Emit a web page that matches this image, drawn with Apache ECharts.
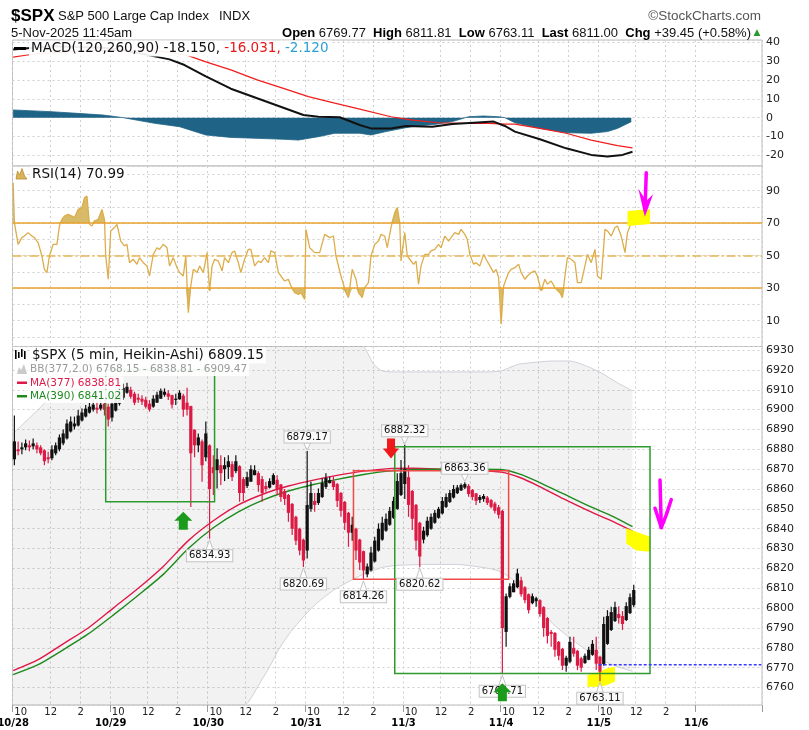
<!DOCTYPE html>
<html>
<head>
<meta charset="utf-8">
<title>$SPX S&amp;P 500 Large Cap Index</title>
<script src="https://cdn.jsdelivr.net/npm/echarts@6/dist/echarts.min.js"></script>
<style>
html,body{margin:0;padding:0;background:#fff;}
#chart{width:809px;height:730px;}
</style>
</head>
<body>
<div id="chart"></div>
<script>
// ================= axis structure / tick labels =================
const dayLabels = ['10/28','10/29','10/30','10/31','11/3','11/4','11/5','11/6'];
const timeLabels = ['10','12','2'];
const timeLabelBars = [6, 30, 54];      // 10:00, 12:00, 14:00 (5-min bars after 9:30)
const gridLineBars = [0, 30, 54];
const BARS_PER_DAY = 78;
const SLOT_COUNT = 599;
const LAST_SESSION_START = 546;         // 11/6 09:30: no intraday ticks after it
const CANDLE_SPAN = 3;                  // each candle drawn = 15 min (3 five-minute bars)
const rsiTickLabels = [10, 30, 50, 70, 90];

// ================= price: Heikin-Ashi candles [open, close, low, high] =================
const d1028 = [
 [6875,6884,6872,6897],[6880,6879,6877,6884],[6880,6881,6877.5,6883.5],[6881,6883,6879.5,6885],
 [6882,6881,6879,6884.5],[6881.5,6883,6880,6885.5],[6882,6880,6878,6883.5],[6881,6878,6877,6882],
 [6879.5,6874,6872,6880],[6876,6875,6873,6878.8],[6875.5,6880,6874.5,6882],[6878,6882,6877,6883.5],
 [6880,6886,6879,6887.5],[6883,6888,6882,6890],[6885.5,6893,6885,6895],[6889,6894,6888.5,6896.5],
 [6891.5,6893,6890,6896.5],[6892,6897,6891.5,6899.8],[6894.5,6898.5,6894,6900.6],[6896.5,6900.5,6896,6902.3],
 [6898.5,6901.5,6898,6903.5],[6900,6902.5,6899,6904.8],[6901,6900,6898,6904],[6900.5,6902.5,6899.5,6905],
 [6903,6900,6897,6905],[6901.5,6895,6891.5,6903]
];
const d1029 = [
 [6896,6903,6894,6906],[6899.5,6906,6899,6909],[6903,6909,6902,6912],[6906,6911,6905,6913],
 [6908.5,6911.5,6908,6913.5],[6910,6906.5,6905.5,6911.5],[6908,6903.5,6902.3,6909],[6906,6905,6903.5,6908],
 [6905.5,6904,6902.3,6907.3],[6905,6901.5,6900.6,6906.5],[6903,6900,6899,6904.8],[6901.5,6905.5,6901,6907.3],
 [6903.5,6907.5,6903.5,6909],[6905.5,6909.5,6905.5,6910.7],[6907.5,6909,6906.5,6910.7],[6908.2,6906.5,6904.8,6909.8],
 [6907.3,6902.5,6900.6,6907.5],[6905,6905.5,6902.3,6908],[6905.2,6908.5,6905,6909.8],[6907,6900,6896.4,6908],
 [6903.5,6900,6897,6911],[6901.8,6878,6851,6902],[6889.9,6882,6876,6890],[6882,6886,6878.5,6888],
 [6884,6872,6863.7,6885],[6876,6888,6874,6894]
];
const d1030 = [
 [6882,6860,6834.93,6882.5],[6871,6868,6857,6877],[6869.5,6875,6860.3,6880.5],[6872,6868,6862,6877],
 [6870,6872,6864,6876],[6871,6874,6865,6877],[6872.5,6866,6864,6874],[6869,6874,6868,6877],
 [6871.5,6858,6853.6,6872],[6865,6858,6854,6866],[6861.5,6866,6860.5,6868.7],[6863.7,6870,6863.7,6872],
 [6867,6869.5,6867,6872],[6868,6862,6858.6,6869],[6865,6858,6853.6,6866.5],[6861.5,6860,6858.6,6863.7],
 [6860.7,6864,6860.3,6865.4],[6862.3,6867,6862,6868],[6864.7,6860,6857,6867],[6862.3,6856,6853.6,6862.5],
 [6859,6855,6852,6860],[6857,6848,6843.5,6857.5],[6852.5,6840,6836.8,6853],[6846,6834,6831.8,6846.5],
 [6840,6829,6826.7,6840.5],[6834.5,6824,6820.69,6835]
];
const d1031 = [
 [6829,6852,6825,6879.17],[6850,6858,6848.6,6863.7],[6854,6852,6848.6,6858],[6853,6858,6852,6860.3],
 [6856,6863,6855.5,6865.4],[6861,6865.5,6860,6868],[6863,6864.5,6862.8,6866.2],[6864,6861,6859.5,6866.2],
 [6862.5,6854,6851,6863],[6858,6849,6846,6858.5],[6853.5,6843,6839.3,6854],[6848,6838,6830.9,6848.5],
 [6838,6842,6834,6846],[6840,6829,6824.2,6840.5],[6834.5,6823,6819.2,6835],[6828.7,6819,6814.26,6829],
 [6817,6821,6815.5,6822.5],[6819,6828,6818.5,6830.9],[6823.5,6834,6823,6836],[6829,6840,6828.5,6842.7],
 [6834.5,6843,6834,6846],[6839,6845,6838.5,6847.7],[6842,6849,6841.5,6851],[6845.5,6854,6845,6856.1],
 [6850,6864,6849.5,6867.9],[6857,6868,6856.5,6874.6]
];
const d1103 = [
 [6862.5,6870,6855,6882.32],[6866,6852,6846,6872],[6859,6845,6839.3,6859.5],[6852,6834,6829.2,6852.5],
 [6843,6826,6820.62,6843.5],[6834.5,6839,6832.6,6841],[6836.7,6844,6836,6846],[6840,6846,6839.5,6847.7],
 [6843,6848,6842.5,6849.4],[6845.5,6850,6845,6851],[6847.7,6854,6847.2,6856],[6851,6856,6850.5,6857.8],
 [6853.5,6858,6853,6859.5],[6855.7,6860,6855.2,6862],[6857.9,6860.8,6857.5,6862],[6859.3,6862,6859,6862.8],
 [6860.7,6862.5,6860,6863.36],[6861.6,6857.5,6856.1,6862.5],[6859.5,6856,6854.4,6860],[6857.8,6854,6851.9,6858],
 [6854.5,6856,6853,6857],[6855,6856.5,6853.6,6857.5],[6855.7,6853,6851.9,6856.5],[6854.4,6851,6850.2,6855],
 [6852.7,6849,6847.7,6853.6],[6850.8,6847,6845.2,6851.9]
];
const d1104 = [
 [6849,6790,6766.71,6849.5],[6788,6806,6780.6,6807.4],[6805.7,6811,6805,6812.5],[6808,6812.5,6808,6814.1],
 [6810.5,6817.5,6810,6819.8],[6814,6807,6805.7,6815.8],[6810.5,6804,6802.4,6811],[6807,6799,6797.3,6807.4],
 [6802.5,6806,6802,6807.4],[6803.5,6805,6800.7,6805.7],[6804,6797,6795.7,6804.5],[6800.5,6790,6785.6,6801],
 [6795,6786,6782.2,6795.5],[6788,6787,6780.6,6789],[6787.5,6779,6775.5,6788],[6783,6776,6773.8,6783.5],
 [6779.5,6771,6768.8,6780],[6771,6775,6768,6776],[6773,6783,6772.2,6785.6],[6780,6777,6775.5,6785.6],
 [6778.5,6771,6768.8,6779],[6774.7,6770,6768,6775.5],[6772.3,6776,6772,6777.2],[6774,6779,6773.8,6780.6],
 [6776.5,6782,6776,6783.9],[6779,6772,6768.8,6785.6]
];
const d1105 = [
 [6775.5,6768,6763.11,6776],[6771.8,6792,6771,6795.7],[6782,6796,6781.5,6799],[6789,6798,6788.5,6800.7],
 [6793.5,6800.5,6793,6803.2],[6797,6795,6792.3,6801],[6796,6792,6789,6798.5],[6794,6801,6793.5,6803],
 [6797.5,6805.5,6797,6807.4],[6801.5,6809.15,6800.5,6811.81]
];
const tradingDays = [d1028, d1029, d1030, d1031, d1103, d1104, d1105];

// ================= overlays (bar index, value) =================
const bbBars  = [0,20,40,60,75,100,140,187,196,205,213,223,240,256,270,281,288,295,306,330,355,380,390,400,405,420,431,445,458,470,483,495];
const bbUpper = [6888,6900,6913,6927,6936,6946,6952,6950,6949,6948,6947,6946,6944,6941,6937,6931,6923,6919.5,6919,6919,6919,6919,6919.5,6922,6923,6924,6924.5,6924.5,6922,6918.5,6913.5,6909.47];
const bbLower = [6700,6703,6706,6710,6713,6719,6730,6752,6761,6770.5,6780,6789,6801,6809,6814,6817.5,6819,6820.5,6821.5,6822,6822,6820,6818.3,6814,6810.8,6801,6792.3,6785,6779,6774,6770.5,6768.15];

const maBars = [0,20,40,60,80,100,120,140,160,180,200,220,240,260,280,300,320,345,370,390,405,420,440,460,480,495];
const ma377  = [6768.5,6774,6782,6790,6800,6810,6821,6834,6844,6852,6857.5,6861.5,6864.5,6867,6869,6870.3,6870.5,6870,6869.5,6868.5,6865.8,6861.5,6855,6849,6843.5,6838.81];
const ma390  = [6766.5,6771.5,6779,6787,6796.5,6806.5,6817,6830,6840.5,6848.5,6854.5,6859,6862.3,6865,6867.3,6869,6869.8,6870,6870,6869.8,6867.5,6863.5,6857.5,6851.5,6846,6841.02];

// ================= MACD(120,260,90) =================
const macdLine = [[0,36.3],[30,38],[51,37.6],[72,37.2],[88,35.8],[107,33.4],[125,31],[137,28],[154,22],[174,15.4],[195,10.3],[216,5.3],[232,1.4],[244,0.5],[261,0.2],[277,-3.9],[286,-5.7],[302,-5.7],[314,-4.4],[335,-4.8],[351,-3.4],[368,-2.7],[384,-2.1],[393,-4.4],[401,-7.4],[421,-11.5],[442,-16.3],[462,-19.8],[475,-20.7],[487,-19.8],[495,-18.15]];
const macdSignal = [[0,32.2],[10,33.2],[20,34],[50,35.2],[80,35.8],[110,35.6],[125,34.8],[140,33],[154,29.7],[174,25.4],[195,20.1],[216,15.6],[236,11.2],[257,7.7],[277,4.5],[302,0.5],[318,-1.2],[339,-2.7],[360,-3],[380,-3],[393,-3.4],[401,-3.4],[421,-5.7],[442,-8.3],[462,-11.9],[483,-14.9],[495,-16.03]];
const macdHist = [[0,4.1],[30,3.2],[51,2.3],[72,1.4],[88,0],[113,-3],[133,-4.8],[154,-9.2],[174,-10.5],[195,-11],[216,-11.5],[228,-11.9],[244,-10.1],[257,-8.3],[277,-8.3],[286,-9.2],[298,-7.4],[318,-4.8],[339,-3.4],[351,-2.1],[364,0.5],[376,0.9],[388,0.5],[393,0],[401,-2.7],[421,-5.7],[442,-8],[462,-8.3],[475,-7.4],[483,-5.7],[494,-2.12]];

// ================= RSI(14) =================
const rsiPts = [[0,94.9],[1,70.3],[4,57],[7,61.1],[9,62.1],[12,64.2],[15,62.1],[17,61.1],[20,58],[23,49.8],[25,41.6],[27,39.6],[29,49.8],[32,57],[35,57],[37,68.3],[39,72.4],[41,74.4],[44,75.5],[47,74.4],[49,73.4],[52,78.5],[55,79.6],[57,85.7],[59,86.7],[61,69.3],[63,68.3],[65,71.4],[68,72.4],[71,78.5],[73,72.4],[74,49.8],[76,35.5],[78,65.2],[81,67.3],[83,69.3],[86,59],[89,56],[91,57],[93,45.7],[96,47.8],[99,44.7],[101,48.8],[104,45.7],[107,43.7],[109,37.5],[112,50.8],[115,54.9],[117,53.9],[120,57],[123,54.9],[125,43.7],[128,48.8],[131,42.6],[133,39.6],[136,37.5],[138,49.8],[140,14.9],[142,31.4],[144,41.6],[147,39.6],[149,43.7],[152,39.6],[155,51.9],[157,28.3],[159,43.7],[161,47.8],[164,46.7],[167,40.6],[169,48.8],[172,45.7],[175,51.9],[177,52.9],[180,45.7],[182,39.6],[185,47.8],[188,53.9],[190,53.9],[193,43.7],[196,46.7],[198,45.7],[201,48.8],[204,45.7],[206,52.9],[209,51.9],[212,39.6],[214,37.5],[217,34.4],[220,35.5],[222,31.4],[225,27.2],[228,26.2],[230,27.2],[233,23.1],[234,66.2],[237,54.9],[241,51.9],[245,51.9],[249,63.1],[253,61.1],[256,62.1],[258,49.8],[262,37.5],[266,27.2],[268,24.2],[271,41.6],[274,35.5],[276,27.2],[279,24.2],[281,30.3],[284,33.4],[286,49.8],[289,57],[292,59],[294,63.1],[297,62.1],[299,54.9],[302,67.3],[305,76.5],[307,79.6],[309,70.3],[310,46.7],[313,64.2],[315,49.8],[317,47.8],[320,44.7],[322,46.7],[324,32.4],[326,43.7],[329,50.8],[332,50.8],[334,52.9],[337,53.9],[340,57],[342,54.9],[345,62.1],[348,59],[350,61.1],[353,64.2],[356,63.1],[358,66.2],[361,63.1],[363,60.1],[365,50.8],[368,44.7],[370,45.7],[373,43.7],[376,50.8],[378,47.8],[381,43.7],[384,39.6],[386,41.6],[388,36.5],[389,37.5],[390,7.8],[392,31.4],[396,39.6],[398,41.6],[401,42.6],[404,44.7],[406,39.6],[409,35.5],[411,37.5],[414,39.6],[417,40.6],[419,37.5],[422,28.3],[425,35.5],[427,32.4],[430,34.4],[433,30.3],[437,27.2],[439,24.2],[441,37.5],[443,48.8],[446,47.8],[449,45.7],[451,33.4],[454,33.4],[457,43.7],[459,50.8],[462,45.7],[465,53.9],[467,37.5],[470,35.5],[473,66.2],[475,65.2],[478,62.1],[481,67.3],[483,68.3],[486,62.1],[489,51.9],[491,64.2],[494,70.3],[495,70.99]];
const rsiLevels = { overbought: 70, mid: 50, oversold: 30 };

// ================= annotations (bar index, value) =================
const greenBoxes = [[74,161,6919.9,6853.6],[305,509,6881.3,6767.1]];
const redBoxes = [[272,396,6869.2,6814.5]];
const upArrows = [[136,6848.5],[391,6762.1]];
const downArrows = [[302,6875.4]];
const lowCallouts = [[157,6834.93],[232,6820.69],[280,6814.26],[325,6820.62],[391,6766.71],[469,6763.11]];
const highCallouts = [[235,6879.17],[313,6882.32],[361,6863.36]];
const supportLine = [468, 598, 6771.5];
const yellowPrice = [
  [[490,6840.2],[509,6836],[509,6828.4],[498,6829],[490,6832.6]],
  [[459,6766.3],[469,6768],[474,6769.6],[481,6770.5],[481,6762.9],[474,6761.2],[469,6760.4],[459,6760.4]]
];
const magentaPrice = [
  [[517,6864.5],[518,6840.6]],
  [[513,6850.3],[518,6840.6]],
  [[526,6854.7],[522,6847],[518,6840.6]]
];
const yellowRsi = [[[491,77.5],[509,78.6],[509,69.5],[491,68.3]]];
const magentaRsiStem = [[506,101],[505,78]];
const magentaRsiHead = [[501,88.8],[505,75.5],[510,86],[505.5,83]];

// ================= build =================
const F_HEAD = '"Liberation Sans", Arial, sans-serif';
const F_UI = '"DejaVu Sans", Verdana, sans-serif';
const GRID_COLOR = '#cfcfcf';

const cats = [];
for (let i = 0; i < SLOT_COUNT; i++) cats.push(String(i));
const inDay = i => i % BARS_PER_DAY;
const isGridBar = i => i <= LAST_SESSION_START && gridLineBars.indexOf(inDay(i)) >= 0;
const isTimeBar = i => i < LAST_SESSION_START && timeLabelBars.indexOf(inDay(i)) >= 0;
const isDayStart = i => inDay(i) === 0;

const candleData = [];
tradingDays.forEach((day, d) => day.forEach((k, j) => {
  candleData.push([d * BARS_PER_DAY + CANDLE_SPAN * j + 1, k[0], k[1], k[2], k[3]]);
}));

function baseX(gridIndex) {
  return {
    type: 'category', gridIndex: gridIndex, data: cats, boundaryGap: true,
    axisLine: { show: false }, axisTick: { show: false }, axisLabel: { show: false },
    splitLine: { show: true, interval: (i) => isGridBar(i), lineStyle: { color: GRID_COLOR, width: 1, type: [2, 3] } }
  };
}
const xTime = baseX(2);
xTime.axisTick = { show: true, interval: (i) => isDayStart(i), length: 7, lineStyle: { color: '#9a9a9a' } };
xTime.axisLabel = {
  show: true, interval: (i) => isTimeBar(i),
  formatter: (v, i) => timeLabels[timeLabelBars.indexOf(inDay(i))],
  margin: 2, fontFamily: 'DejaVu Sans', fontSize: 10, color: '#222'
};
const xDate = {
  type: 'category', gridIndex: 2, data: cats, boundaryGap: true, position: 'bottom',
  axisLine: { show: false }, axisTick: { show: false }, splitLine: { show: false },
  axisLabel: {
    show: true, interval: (i) => isDayStart(i),
    formatter: (v, i) => dayLabels[Math.round(i / BARS_PER_DAY)],
    margin: 13, fontFamily: 'DejaVu Sans', fontWeight: 'bold', fontSize: 10, color: '#000'
  }
};

const mult10 = v => Math.abs(v - Math.round(v / 10) * 10) < 1e-6;
function yAx(gridIndex, min, max, step, fmt) {
  return {
    type: 'value', gridIndex: gridIndex, position: 'right', min: min, max: max,
    minInterval: step, maxInterval: step, splitNumber: 10,
    axisLine: { show: false }, axisTick: { show: false },
    axisLabel: { formatter: fmt, margin: 4, fontFamily: 'DejaVu Sans', fontSize: 11, color: '#222', showMinLabel: false, showMaxLabel: false },
    splitLine: { show: true, lineStyle: { color: GRID_COLOR, width: 1, type: [2, 3] } }
  };
}

const lineBase = { type: 'line', symbol: 'none', showSymbol: false, silent: true };

function candleRender(params, api) {
  const bar = api.value(0);
  const o = api.value(1), c = api.value(2), l = api.value(3), h = api.value(4);
  const pO = api.coord([bar, o]), pC = api.coord([bar, c]);
  const pL = api.coord([bar, l]), pH = api.coord([bar, h]);
  const bw = api.size([1, 0])[0] * CANDLE_SPAN * 0.86;
  const color = c >= o ? '#111111' : '#dc1a44';
  const top = Math.min(pO[1], pC[1]), bot = Math.max(pO[1], pC[1]);
  return {
    type: 'group', children: [
      { type: 'line', shape: { x1: pH[0], y1: pH[1], x2: pL[0], y2: pL[1] }, style: { stroke: color, lineWidth: 1.2 } },
      { type: 'rect', shape: { x: pO[0] - bw / 2, y: top, width: bw, height: Math.max(1.2, bot - top) }, style: { fill: color } }
    ]
  };
}

function polyPts(api, pts) { return pts.map(p => api.coord(p)); }

function yellowPriceRender(params, api) {
  return { type: 'group', children: yellowPrice.map(poly => ({ type: 'polygon', shape: { points: polyPts(api, poly) }, style: { fill: '#ffff00' } })) };
}

function priceAnnoRender(params, api) {
  const ch = [];
  const box = (b, color) => {
    const p1 = api.coord([b[0], b[2]]), p2 = api.coord([b[1], b[3]]);
    ch.push({ type: 'rect', shape: { x: p1[0], y: p1[1], width: p2[0] - p1[0], height: p2[1] - p1[1] }, style: { fill: 'none', stroke: color, lineWidth: 1.5 } });
  };
  greenBoxes.forEach(b => box(b, '#2e9a2e'));
  redBoxes.forEach(b => box(b, '#f24848'));
  // support line
  const s1 = api.coord([supportLine[0], supportLine[2]]), s2 = api.coord([supportLine[1], supportLine[2]]);
  ch.push({ type: 'line', shape: { x1: s1[0], y1: s1[1], x2: s2[0], y2: s2[1] }, style: { stroke: '#3b3bff', lineWidth: 1.5, lineDash: [3, 2] } });
  // callouts
  const callout = (c, below) => {
    const p = api.coord(c);
    const txt = c[1].toFixed(2);
    if (below) {
      ch.push({ type: 'polygon', shape: { points: [[p[0], p[1] + 1], [p[0] - 3.5, p[1] + 11], [p[0] + 3.5, p[1] + 11]] }, style: { fill: '#ffffff', stroke: '#c4c4c4', lineWidth: 1 } });
    } else {
      ch.push({ type: 'polygon', shape: { points: [[p[0], p[1] - 1], [p[0] - 3.5, p[1] - 8], [p[0] + 3.5, p[1] - 8]] }, style: { fill: '#ffffff', stroke: '#c4c4c4', lineWidth: 1 } });
    }
    ch.push({ type: 'text', x: p[0], y: below ? p[1] + 17 : p[1] - 14, style: {
      text: txt, font: '10px ' + F_UI, fill: '#111', align: 'center', verticalAlign: 'middle',
      textAlign: 'center', textVerticalAlign: 'middle',
      backgroundColor: '#fbfbfb', borderColor: '#c4c4c4', borderWidth: 1, padding: [1, 2, 0, 2]
    } });
  };
  lowCallouts.forEach(c => callout(c, true));
  highCallouts.forEach(c => callout(c, false));
  // arrows (drawn over the callouts)
  upArrows.forEach(a => {
    const p = api.coord(a);
    ch.push({ type: 'polygon', shape: { points: [[p[0], p[1]], [p[0] + 9, p[1] + 9], [p[0] + 4.5, p[1] + 9], [p[0] + 4.5, p[1] + 18], [p[0] - 4.5, p[1] + 18], [p[0] - 4.5, p[1] + 9], [p[0] - 9, p[1] + 9]] }, style: { fill: '#1c9a1c' } });
  });
  downArrows.forEach(a => {
    const p = api.coord(a);
    ch.push({ type: 'polygon', shape: { points: [[p[0], p[1]], [p[0] + 8, p[1] - 10], [p[0] + 4, p[1] - 10], [p[0] + 4, p[1] - 20], [p[0] - 4, p[1] - 20], [p[0] - 4, p[1] - 10], [p[0] - 8, p[1] - 10]] }, style: { fill: '#f01818' } });
  });
  // magenta hand-drawn arrow
  magentaPrice.forEach(line => {
    ch.push({ type: 'polyline', shape: { points: polyPts(api, line) }, style: { stroke: '#ff00ff', lineWidth: 3.5, fill: 'none', lineCap: 'round', lineJoin: 'round' } });
  });
  return { type: 'group', children: ch };
}

function rsiAnnoRender(params, api) {
  const ch = [];
  yellowRsi.forEach(poly => ch.push({ type: 'polygon', shape: { points: polyPts(api, poly) }, style: { fill: '#ffff00' } }));
  ch.push({ type: 'polyline', shape: { points: polyPts(api, magentaRsiStem) }, style: { stroke: '#ff00ff', lineWidth: 3.5, fill: 'none', lineCap: 'round' } });
  ch.push({ type: 'polygon', shape: { points: polyPts(api, magentaRsiHead) }, style: { fill: '#ff00ff', stroke: '#ff00ff', lineWidth: 1.5 } });
  return { type: 'group', children: ch };
}

const rsiHiBase = rsiPts.map(p => [p[0], rsiLevels.overbought]);
const rsiHiFill = rsiPts.map(p => [p[0], Math.max(p[1], rsiLevels.overbought) - rsiLevels.overbought]);
const rsiLoBase = rsiPts.map(p => [p[0], Math.min(p[1], rsiLevels.oversold)]);
const rsiLoFill = rsiPts.map(p => [p[0], rsiLevels.oversold - Math.min(p[1], rsiLevels.oversold)]);

// legend helpers
function gtext(x, y, text, font, fill, align, extra) {
  const st = Object.assign({ text: text, font: font, fill: fill, align: align || 'left', verticalAlign: 'middle', textAlign: align || 'left', textVerticalAlign: 'middle' }, extra || {});
  return { type: 'text', x: x, y: y, z: 100, silent: true, style: st };
}
const WHITE_BG = { backgroundColor: 'rgba(255,255,255,0.92)', padding: [1, 2, 1, 2] };
const F13 = '13px ' + F_HEAD;
const FB13 = 'bold 13px ' + F_HEAD;

const graphics = [
  gtext(11, 16, '$SPX', 'bold 17px ' + F_HEAD, '#000'),
  gtext(58, 16.5, 'S&P 500 Large Cap Index', F13, '#111'),
  gtext(219, 16.5, 'INDX', F13, '#111'),
  gtext(761, 16, '\u00A9StockCharts.com', '13.5px ' + F_HEAD, '#555', 'right'),
  gtext(11, 33, '5-Nov-2025 11:45am', F13, '#111'),
  gtext(751, 33, '{b|Open} {n|6769.77}  {b|High} {n|6811.81}  {b|Low} {n|6763.11}  {b|Last} {n|6811.00}  {b|Chg} {n|+39.45 (+0.58%)}', F13, '#111', 'right',
    { rich: { b: { font: FB13, fill: '#000' }, n: { font: F13, fill: '#111' } } }),
  gtext(757, 32.5, '\u25B2', '9px ' + F_UI, '#2a9a2a', 'center'),
  // MACD legend
  { type: 'rect', z: 100, silent: true, shape: { x: 14, y: 47, width: 12, height: 3 }, style: { fill: '#000' } },
  gtext(29, 48.5, '{k|MACD(120,260,90) -18.150,}{r| -16.031,}{c| -2.120}', '13.5px ' + F_UI, '#000', 'left',
    Object.assign({ rich: { k: { font: '13.5px ' + F_UI, fill: '#111' }, r: { font: '13.5px ' + F_UI, fill: '#e81818' }, c: { font: '13.5px ' + F_UI, fill: '#2a9fd6' } } }, WHITE_BG)),
  // RSI legend
  { type: 'polygon', z: 100, silent: true, shape: { points: [[16, 179], [17.5, 171], [19.5, 175], [22, 168.5], [24.5, 176], [27, 179]] }, style: { fill: '#d8b35a', stroke: '#b88e2e', lineWidth: 0.8 } },
  gtext(30, 174.5, 'RSI(14) 70.99', '13.5px ' + F_UI, '#111', 'left', WHITE_BG),
  // price legend
  { type: 'rect', z: 100, silent: true, shape: { x: 15, y: 350, width: 1.6, height: 9 }, style: { fill: '#000' } },
  { type: 'rect', z: 100, silent: true, shape: { x: 18, y: 352, width: 1.6, height: 6 }, style: { fill: '#000' } },
  { type: 'rect', z: 100, silent: true, shape: { x: 21, y: 349, width: 1.6, height: 8 }, style: { fill: '#000' } },
  { type: 'rect', z: 100, silent: true, shape: { x: 24, y: 351, width: 1.6, height: 8 }, style: { fill: '#000' } },
  gtext(30, 355.5, '$SPX (5 min, Heikin-Ashi) 6809.15', '13.5px ' + F_UI, '#111', 'left', WHITE_BG),
  { type: 'polygon', z: 100, silent: true, shape: { points: [[17, 374], [19, 367], [21, 370], [24, 364], [27, 374]] }, style: { fill: '#cacaca' } },
  gtext(28, 369.5, 'BB(377,2.0) 6768.15 - 6838.81 - 6909.47', '10.5px ' + F_UI, '#9a9a9a', 'left', WHITE_BG),
  { type: 'rect', z: 100, silent: true, shape: { x: 17, y: 381.5, width: 10, height: 2.5 }, style: { fill: '#e01848' } },
  gtext(28, 383, 'MA(377) 6838.81', '10.5px ' + F_UI, '#e01848', 'left', WHITE_BG),
  { type: 'rect', z: 100, silent: true, shape: { x: 17, y: 395, width: 10, height: 2.5 }, style: { fill: '#1e8a1e' } },
  gtext(28, 396.5, 'MA(390) 6841.02', '10.5px ' + F_UI, '#1e8a1e', 'left', WHITE_BG)
];

const gridBase = { left: 12.5, right: 47, show: true, backgroundColor: '#fff', borderColor: '#bdbdbd', borderWidth: 1, containLabel: false, outerBoundsMode: 'none' };

const option = {
  animation: false,
  backgroundColor: '#ffffff',
  textStyle: { fontFamily: 'DejaVu Sans' },
  grid: [
    Object.assign({}, gridBase, { top: 40, height: 126 }),
    Object.assign({}, gridBase, { top: 166, height: 180.5 }),
    Object.assign({}, gridBase, { top: 346.5, height: 358.5 })
  ],
  xAxis: [baseX(0), baseX(1), xTime, xDate],
  yAxis: [
    yAx(0, -25.7, 41.3, 10, v => (mult10(v) ? String(Math.round(v)) : '')),
    yAx(1, -5.9, 105.2, 10, v => (rsiTickLabels.indexOf(Math.round(v)) >= 0 && Math.abs(v - Math.round(v)) < 1e-6 ? String(Math.round(v)) : '')),
    yAx(2, 6751.2, 6931.8, 10, v => (mult10(v) ? String(Math.round(v)) : ''))
  ],
  series: [
    // ---- MACD ----
    Object.assign({}, lineBase, { name: 'hist', xAxisIndex: 0, yAxisIndex: 0, data: macdHist, lineStyle: { width: 0.8, color: '#1f6486' }, areaStyle: { color: '#1f6486', opacity: 1 }, z: 2 }),
    Object.assign({}, lineBase, { name: 'signal', xAxisIndex: 0, yAxisIndex: 0, data: macdSignal, lineStyle: { width: 1.2, color: '#f21c1c' }, z: 3 }),
    Object.assign({}, lineBase, { name: 'macd', xAxisIndex: 0, yAxisIndex: 0, data: macdLine, lineStyle: { width: 2, color: '#111' }, z: 4 }),
    // ---- RSI ----
    Object.assign({}, lineBase, { name: 'rsiHiBase', xAxisIndex: 1, yAxisIndex: 1, stack: 'hi', data: rsiHiBase, lineStyle: { opacity: 0 }, z: 2 }),
    Object.assign({}, lineBase, { name: 'rsiHiFill', xAxisIndex: 1, yAxisIndex: 1, stack: 'hi', data: rsiHiFill, lineStyle: { opacity: 0 }, areaStyle: { color: '#d8bb68', opacity: 1 }, z: 2 }),
    Object.assign({}, lineBase, { name: 'rsiLoBase', xAxisIndex: 1, yAxisIndex: 1, stack: 'lo', data: rsiLoBase, lineStyle: { opacity: 0 }, z: 2 }),
    Object.assign({}, lineBase, { name: 'rsiLoFill', xAxisIndex: 1, yAxisIndex: 1, stack: 'lo', data: rsiLoFill, lineStyle: { opacity: 0 }, areaStyle: { color: '#d8bb68', opacity: 1 }, z: 2 }),
    Object.assign({}, lineBase, { name: 'rsi', xAxisIndex: 1, yAxisIndex: 1, data: rsiPts, lineStyle: { width: 1.3, color: '#dcad4a' }, z: 4,
      markLine: { silent: true, symbol: 'none', label: { show: false }, data: [
        { yAxis: rsiLevels.overbought, lineStyle: { color: '#e9a22e', width: 1.5, type: 'solid' } },
        { yAxis: rsiLevels.oversold, lineStyle: { color: '#e9a22e', width: 1.5, type: 'solid' } },
        { yAxis: rsiLevels.mid, lineStyle: { color: '#eab552', width: 1.5, type: [9, 3, 2, 3] } }
      ] } }),
    { name: 'rsiAnno', type: 'custom', xAxisIndex: 1, yAxisIndex: 1, data: [[0, 50]], renderItem: rsiAnnoRender, silent: true, z: 6 },
    // ---- Price ----
    Object.assign({}, lineBase, { name: 'bbLow', xAxisIndex: 2, yAxisIndex: 2, stack: 'bb', smooth: 0.2, data: bbBars.map((b, i) => [b, bbLower[i]]), lineStyle: { color: '#cfcfd8', width: 1 }, z: 1 }),
    Object.assign({}, lineBase, { name: 'bbBand', xAxisIndex: 2, yAxisIndex: 2, stack: 'bb', smooth: 0.2, data: bbBars.map((b, i) => [b, bbUpper[i] - bbLower[i]]), lineStyle: { color: '#cfcfd8', width: 1 }, areaStyle: { color: 'rgba(0,0,0,0.072)' }, z: 1 }),
    Object.assign({}, lineBase, { name: 'ma377', xAxisIndex: 2, yAxisIndex: 2, smooth: 0.25, data: maBars.map((b, i) => [b, ma377[i]]), lineStyle: { color: '#e01848', width: 1.4 }, z: 2 }),
    Object.assign({}, lineBase, { name: 'ma390', xAxisIndex: 2, yAxisIndex: 2, smooth: 0.25, data: maBars.map((b, i) => [b, ma390[i]]), lineStyle: { color: '#1e8a1e', width: 1.4 }, z: 2 }),
    { name: 'yellowPrice', type: 'custom', xAxisIndex: 2, yAxisIndex: 2, data: [[0, 6800]], renderItem: yellowPriceRender, silent: true, z: 3 },
    { name: 'candles', type: 'custom', xAxisIndex: 2, yAxisIndex: 2, data: candleData, encode: { x: 0, y: [1, 2, 3, 4] }, renderItem: candleRender, silent: true, z: 4 },
    { name: 'priceAnno', type: 'custom', xAxisIndex: 2, yAxisIndex: 2, data: [[0, 6800]], renderItem: priceAnnoRender, silent: true, z: 6 }
  ],
  graphic: { elements: graphics }
};

const chart = echarts.init(document.getElementById('chart'), null, { renderer: 'canvas', width: 809, height: 730 });
chart.setOption(option);
</script>
</body>
</html>
